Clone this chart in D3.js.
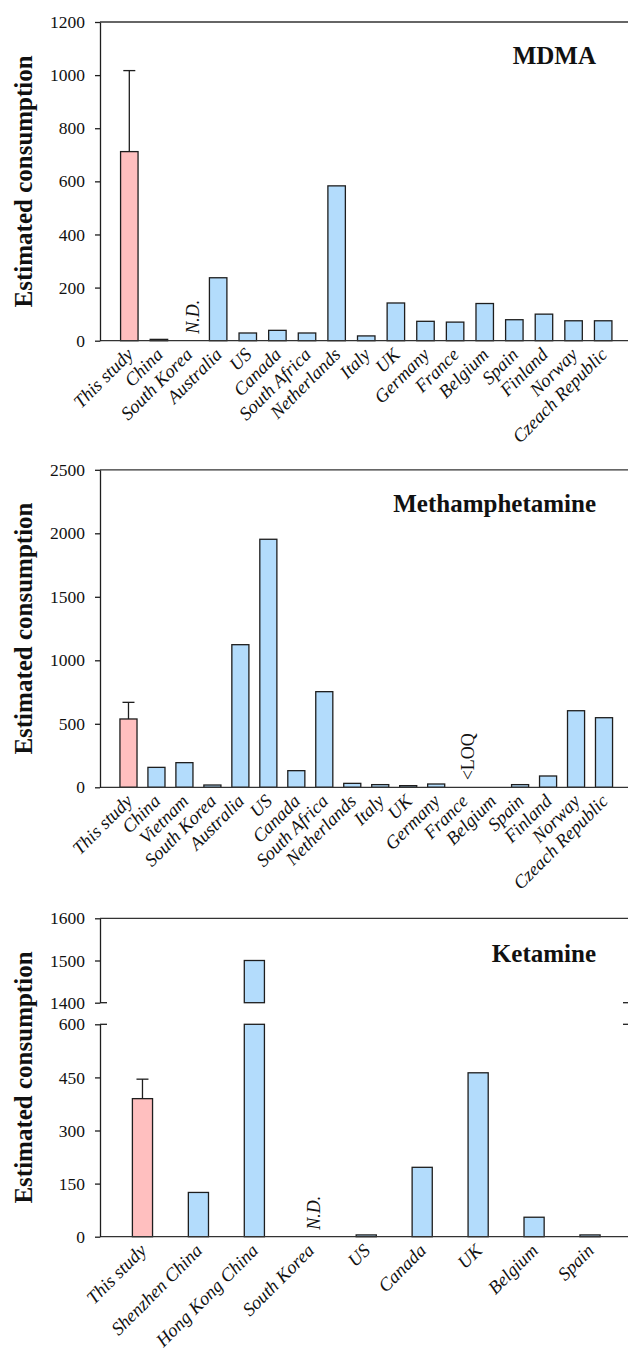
<!DOCTYPE html>
<html>
<head>
<meta charset="utf-8">
<script src="https://cdn.jsdelivr.net/npm/d3@7"></script>
<style>
  body { margin: 0; background: #fff; }
  svg text { font-family: "Liberation Serif", serif; fill: #111; }
  .tick text { font-size: 17.5px; }
  .cat { font-size: 18.5px; font-style: italic; }
  .note { font-size: 18px; }
  .title, .ylabel { font-size: 25px; font-weight: bold; }
</style>
</head>
<body>
<div id="chart"></div>
<script>
const PINK = "#ffbfbf";
const BLUE = "#b3dcfc";
const WIDTH = 628;
const HEIGHT = 1353;
const FONT = "Liberation Serif";

// —— MDMA ——
const mdmaCountries = ["This study", "China", "South Korea", "Australia", "US", "Canada",
  "South Africa", "Netherlands", "Italy", "UK", "Germany", "France", "Belgium", "Spain",
  "Finland", "Norway", "Czeach Republic"];
const mdmaValues = [712, 5, null, 237, 29, 39, 29, 583, 18, 142, 73, 70, 140, 79, 100, 75, 75];
const mdmaSd = 305;
const mdmaTicks = [0, 200, 400, 600, 800, 1000, 1200];
const mdmaNotes = { "South Korea": "N.D." };

// —— Methamphetamine ——
const methCountries = ["This study", "China", "Vietnam", "South Korea", "Australia", "US",
  "Canada", "South Africa", "Netherlands", "Italy", "UK", "Germany", "France", "Belgium",
  "Spain", "Finland", "Norway", "Czeach Republic"];
const methValues = [538, 157, 194, 18, 1123, 1953, 131, 753, 31, 21, 13, 26, null, null, 21, 89, 603, 548];
const methSd = 131;
const methTicks = [0, 500, 1000, 1500, 2000, 2500];
const methNotes = { "France": "<LOQ" };

// —— Ketamine (broken axis) ——
const ketCountries = ["This study", "Shenzhen China", "Hong Kong China", "South Korea", "US",
  "Canada", "UK", "Belgium", "Spain"];
const ketValues = [390, 125, 1500, null, 5, 196, 463, 55, 5];
const ketSd = 55;
const ketTicksLow = [0, 150, 300, 450, 600];
const ketTicksHigh = [1400, 1500, 1600];
const ketNotes = { "South Korea": "N.D." };

const panels = [
  {
    title: "MDMA", titleY: 64, categories: mdmaCountries, values: mdmaValues, sd: mdmaSd,
    notes: mdmaNotes, noteItalic: true, pad: 0.41,
    segments: [{ domain: [0, 1200], range: [340.7, 22], ticks: mdmaTicks }]
  },
  {
    title: "Methamphetamine", titleY: 512, categories: methCountries, values: methValues, sd: methSd,
    notes: methNotes, noteItalic: false, pad: 0.39,
    segments: [{ domain: [0, 2500], range: [787.3, 469.8], ticks: methTicks }]
  },
  {
    title: "Ketamine", titleY: 962, categories: ketCountries, values: ketValues, sd: ketSd,
    notes: ketNotes, noteItalic: true, pad: 0.64,
    segments: [
      { domain: [0, 600], range: [1236.7, 1024.3], ticks: ketTicksLow, breakAt: 600 },
      { domain: [1400, 1600], range: [1002.7, 918.3], ticks: ketTicksHigh, breakAt: 1400 }
    ]
  }
];

const AXIS_X = 100;
const STROKE = "#1e1e1e";

const svg = d3.select("#chart").append("svg")
  .attr("width", WIDTH).attr("height", HEIGHT)
  .attr("viewBox", `0 0 ${WIDTH} ${HEIGHT}`)
  .attr("font-family", FONT);

function drawPanel(p) {
  const g = svg.append("g");
  const segs = p.segments.map(s => ({ ...s, y: d3.scaleLinear().domain(s.domain).range(s.range) }));
  const base = segs[0];
  const top = segs[segs.length - 1];
  const y0 = base.y(0);
  const yTop = top.range[1];

  const x = d3.scaleBand().domain(p.categories).range([114.5, 618])
    .paddingInner(p.pad).paddingOuter(p.pad / 2);

  // top border
  g.append("line").attr("x1", AXIS_X).attr("x2", WIDTH).attr("y1", yTop).attr("y2", yTop)
    .attr("stroke", "#333").attr("stroke-width", 1.3);

  // bars (split across axis segments when broken)
  p.categories.forEach((c, i) => {
    const v = p.values[i];
    if (v == null) return;
    segs.forEach(s => {
      if (v <= s.domain[0] && s.domain[0] > 0) return;
      const hi = Math.min(v, s.domain[1]);
      g.append("rect")
        .attr("x", x(c)).attr("width", x.bandwidth())
        .attr("y", s.y(hi)).attr("height", s.y(s.domain[0]) - s.y(hi))
        .attr("fill", i === 0 ? PINK : BLUE)
        .attr("stroke", STROKE).attr("stroke-width", 1.3);
    });
  });

  // error bar on "This study"
  const v0 = p.values[0];
  const seg0 = segs.find(s => v0 >= s.domain[0] && v0 <= s.domain[1]);
  const cx0 = x(p.categories[0]) + x.bandwidth() / 2;
  g.append("line").attr("x1", cx0).attr("x2", cx0)
    .attr("y1", seg0.y(v0)).attr("y2", seg0.y(v0 + p.sd))
    .attr("stroke", STROKE).attr("stroke-width", 1.3);
  g.append("line").attr("x1", cx0 - 6).attr("x2", cx0 + 6)
    .attr("y1", seg0.y(v0 + p.sd)).attr("y2", seg0.y(v0 + p.sd))
    .attr("stroke", STROKE).attr("stroke-width", 1.3);

  // baseline
  g.append("line").attr("x1", AXIS_X).attr("x2", WIDTH).attr("y1", y0).attr("y2", y0)
    .attr("stroke", "#333").attr("stroke-width", 1.3);

  // y axes
  segs.forEach(s => {
    const ax = g.append("g").attr("transform", `translate(${AXIS_X},0)`)
      .call(d3.axisLeft(s.y).tickValues(s.ticks).tickFormat(d3.format("d"))
        .tickSize(5).tickSizeOuter(0).tickPadding(10));
    ax.attr("font-family", FONT).attr("font-size", null);
    ax.select(".domain").attr("stroke", STROKE).attr("stroke-width", 1.3);
    ax.selectAll(".tick line").attr("stroke", STROKE).attr("stroke-width", 1.3);
    ax.selectAll(".tick text").attr("fill", "#111");
    if (s.breakAt != null) {
      g.append("line").attr("x1", AXIS_X).attr("x2", AXIS_X + 7)
        .attr("y1", s.y(s.breakAt)).attr("y2", s.y(s.breakAt))
        .attr("stroke", STROKE).attr("stroke-width", 1.3);
      g.append("line").attr("x1", WIDTH - 5).attr("x2", WIDTH)
        .attr("y1", s.y(s.breakAt)).attr("y2", s.y(s.breakAt))
        .attr("stroke", STROKE).attr("stroke-width", 1.3);
    }
  });

  // category labels
  g.selectAll(".cat").data(p.categories).join("text")
    .attr("class", "cat")
    .attr("text-anchor", "end")
    .attr("transform", d => `translate(${x(d) + x.bandwidth() / 2 + 5},${y0 + 15}) rotate(-45)`)
    .text(d => d);

  // notes (N.D., <LOQ)
  Object.entries(p.notes).forEach(([c, txt]) => {
    g.append("text").attr("class", "note")
      .style("font-style", p.noteItalic ? "italic" : "normal")
      .attr("transform", `translate(${x(c) + x.bandwidth() / 2 + 10},${y0 - 7}) rotate(-90)`)
      .text(txt);
  });

  // title and y label
  g.append("text").attr("class", "title").attr("text-anchor", "end")
    .attr("x", 596).attr("y", p.titleY).text(p.title);

  g.append("text").attr("class", "ylabel").attr("text-anchor", "middle")
    .attr("transform", `translate(32,${(y0 + yTop) / 2}) rotate(-90)`)
    .text("Estimated consumption");
}

panels.forEach(drawPanel);
</script>
</body>
</html>
